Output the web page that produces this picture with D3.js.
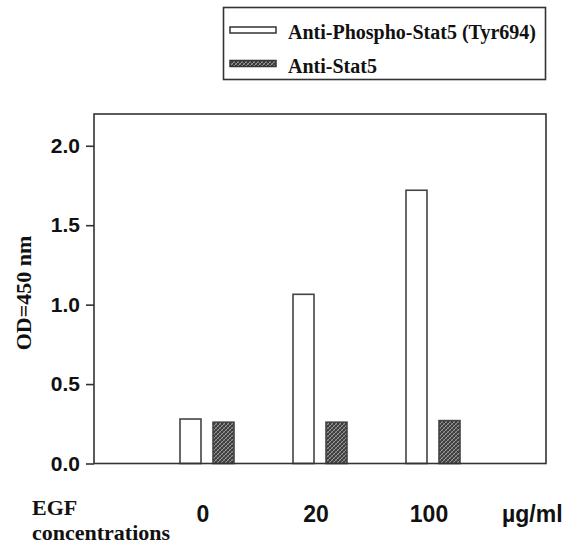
<!DOCTYPE html>
<html>
<head>
<meta charset="utf-8">
<script src="https://cdn.jsdelivr.net/npm/d3@7"></script>
<style>
  body { margin: 0; background: #fff; }
  svg { display: block; }
</style>
</head>
<body>
<div id="chart"></div>
<script>
// values
const groups = ["0", "20", "100"];
const series = ["Anti-Phospho-Stat5 (Tyr694)", "Anti-Stat5"];
const phospho = [0.28, 1.065, 1.72];
const total = [0.26, 0.26, 0.27];
const yTicks = [0, 0.5, 1.0, 1.5, 2.0];

const width = 565, height = 553;
const margin = {top: 114, right: 19, bottom: 89, left: 94};

const svg = d3.select("#chart").append("svg")
    .attr("width", width)
    .attr("height", height);

const defs = svg.append("defs");
const pat = defs.append("pattern")
    .attr("id", "hatch")
    .attr("patternUnits", "userSpaceOnUse")
    .attr("width", 4).attr("height", 4);
pat.append("rect").attr("width", 4).attr("height", 4).attr("fill", "#3c3c3c");
pat.append("path").attr("d", "M0,4 L4,0 M-1,1 L1,-1 M3,5 L5,3")
    .attr("stroke", "#9a9a9a").attr("stroke-width", 1);
pat.append("path").attr("d", "M0,0 L4,4")
    .attr("stroke", "#777").attr("stroke-width", 0.7);

const x = d3.scaleLinear()
    .domain([0, groups.length + 1])
    .range([margin.left, width - margin.right]);

const sub = d3.scaleBand()
    .domain(series)
    .range([-27, 27])
    .paddingInner(0.364);

const y = d3.scaleLinear()
    .domain([0, 2.2])
    .range([height - margin.bottom - 0.5, margin.top]);

const data = groups.map((g, i) => ({g, i, vals: [phospho[i], total[i]]}));

// bars
const gBars = svg.append("g");
data.forEach(d => {
  d.vals.forEach((v, k) => {
    gBars.append("rect")
      .attr("x", x(d.i + 1) + sub(series[k]))
      .attr("y", y(v))
      .attr("width", sub.bandwidth())
      .attr("height", y(0) - y(v))
      .attr("fill", k === 0 ? "#fff" : "url(#hatch)")
      .attr("stroke", "#444")
      .attr("stroke-width", 1.6);
  });
});

// frame
svg.append("rect")
    .attr("x", margin.left)
    .attr("y", margin.top)
    .attr("width", width - margin.right - margin.left)
    .attr("height", y(0) - margin.top)
    .attr("fill", "none")
    .attr("stroke", "#333")
    .attr("stroke-width", 1.6);

// y axis
const yAxis = svg.append("g")
    .attr("transform", `translate(${margin.left},0)`)
    .call(d3.axisLeft(y).tickValues(yTicks).tickFormat(d3.format(".1f")).tickSize(8).tickPadding(6));
yAxis.select(".domain").remove();
yAxis.selectAll("line").attr("stroke", "#333").attr("stroke-width", 1.6);
yAxis.selectAll("text")
    .attr("font-family", "Liberation Sans, Arial, sans-serif")
    .attr("font-weight", "bold")
    .attr("font-size", 21)
    .attr("fill", "#111");

// y title
svg.append("text")
    .attr("transform", `translate(31,293) rotate(-90)`)
    .attr("text-anchor", "middle")
    .attr("font-family", "Liberation Serif, Times New Roman, serif")
    .attr("font-weight", "bold")
    .attr("font-size", 22)
    .attr("fill", "#111")
    .text("OD=450 nm");

// x labels
const sans = "Liberation Sans, Arial, sans-serif";
const serif = "Liberation Serif, Times New Roman, serif";
svg.append("g").selectAll("text")
    .data(groups)
    .join("text")
    .attr("x", (d, i) => x(i + 1) - 4)
    .attr("y", 522)
    .attr("text-anchor", "middle")
    .attr("font-family", sans)
    .attr("font-weight", "bold")
    .attr("font-size", 23)
    .attr("fill", "#111")
    .text(d => d);

svg.append("text")
    .attr("x", 502).attr("y", 522)
    .attr("font-family", sans)
    .attr("font-weight", "bold")
    .attr("font-size", 23)
    .attr("fill", "#111")
    .text("µg/ml");

svg.append("text")
    .attr("x", 32).attr("y", 515)
    .attr("font-family", serif)
    .attr("font-weight", "bold")
    .attr("font-size", 22)
    .attr("fill", "#111")
    .text("EGF");
svg.append("text")
    .attr("x", 32).attr("y", 540)
    .attr("font-family", serif)
    .attr("font-weight", "bold")
    .attr("font-size", 22)
    .attr("fill", "#111")
    .text("concentrations");

// legend
const legend = svg.append("g");
legend.append("rect")
    .attr("x", 223.5).attr("y", 7.5)
    .attr("width", 322).attr("height", 72)
    .attr("fill", "#fff")
    .attr("stroke", "#333")
    .attr("stroke-width", 1.6);
series.forEach((s, k) => {
  const yy = 27 + k * 33.5;
  legend.append("rect")
    .attr("x", 230).attr("y", yy)
    .attr("width", 46).attr("height", 6)
    .attr("fill", k === 0 ? "#fff" : "url(#hatch)")
    .attr("stroke", "#333")
    .attr("stroke-width", 1.5);
  legend.append("text")
    .attr("x", 288).attr("y", yy + 12)
    .attr("font-family", serif)
    .attr("font-weight", "bold")
    .attr("font-size", 20)
    .attr("fill", "#111")
    .text(s);
});
</script>
</body>
</html>
